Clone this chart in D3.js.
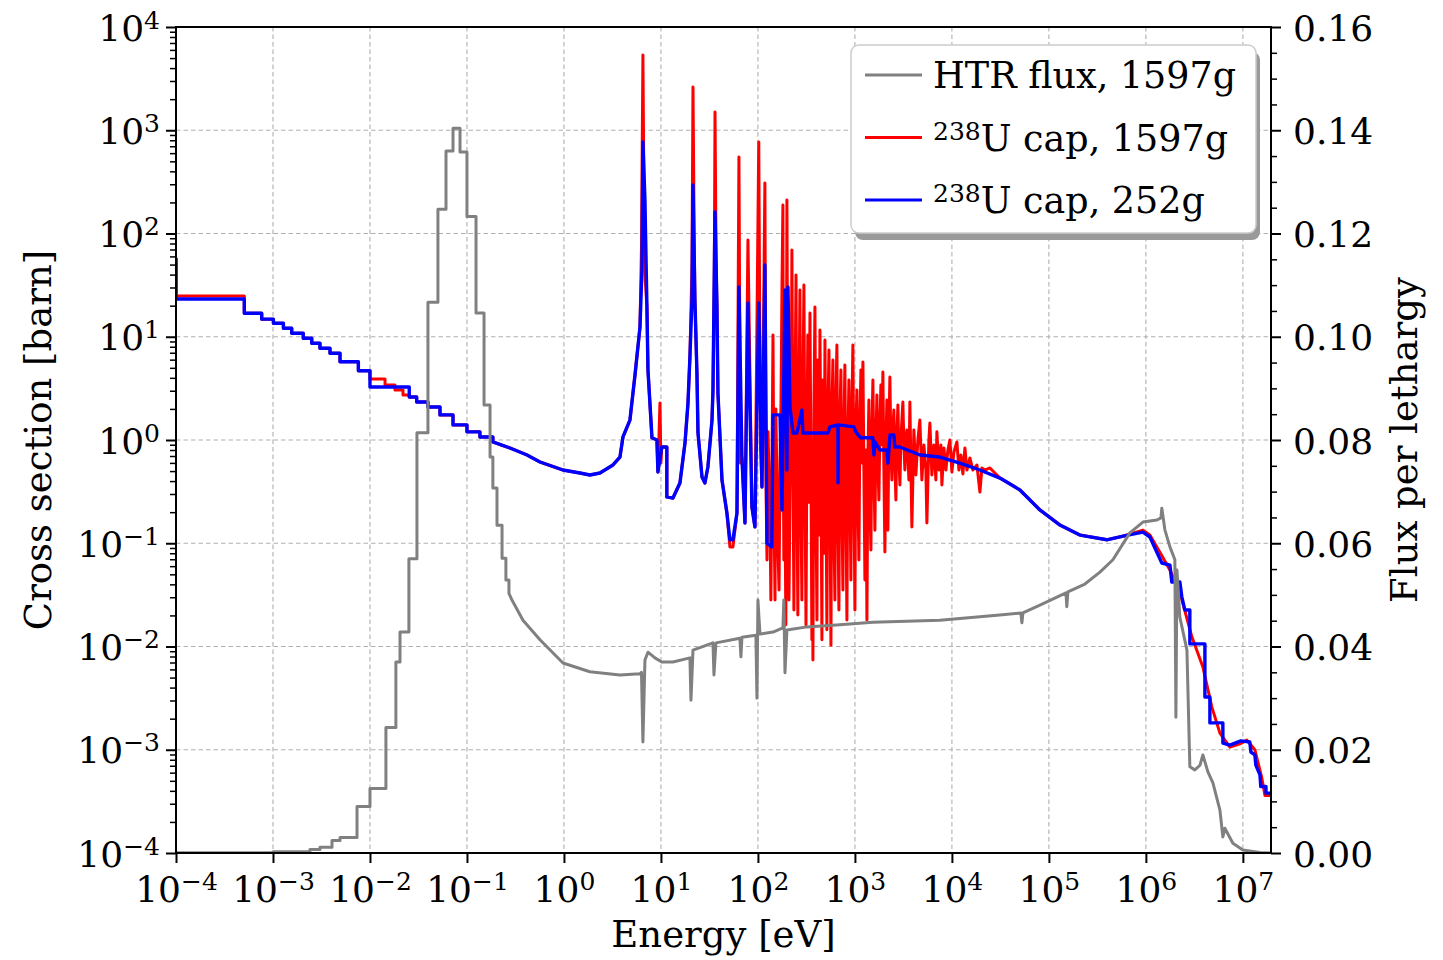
<!DOCTYPE html>
<html>
<head>
<meta charset="utf-8">
<script src="https://cdn.jsdelivr.net/npm/d3@7"></script>
<style>
    body { margin: 0; background: #fff; }
    text { font-family: "DejaVu Serif", serif; fill: #000; }
</style>
</head>
<body>
<div id="chart-area"></div>
<script>
// axis ticks
var xTickValues  = [1e-4, 1e-3, 1e-2, 1e-1, 1e0, 1e1, 1e2, 1e3, 1e4, 1e5, 1e6, 1e7];
var xsTickValues = [1e-4, 1e-3, 1e-2, 1e-1, 1e0, 1e1, 1e2, 1e3, 1e4];
var fluxTickValues = [0, 0.02, 0.04, 0.06, 0.08, 0.10, 0.12, 0.14, 0.16];

// legend
var legendSup    = ["", "238", "238"];
var legendText   = ["HTR flux, 1597g", "U cap, 1597g", "U cap, 252g"];
var legendColors = ["#808080", "#ff0000", "#0000ff"];

// HTR flux per lethargy, thermal part (group edges [eV] and level)
var fluxEdges  = [1e-4, 1.0e-3, 2.40e-3, 3.05e-3, 4.06e-3, 4.91e-3, 7.35e-3, 1.00e-2, 1.46e-2, 1.85e-2,
                  2.04e-2, 2.52e-2, 3.05e-2, 3.96e-2, 5.02e-2, 6.08e-2, 7.18e-2, 8.48e-2, 0.100, 0.124,
                  0.150, 0.173, 0.185, 0.204, 0.230, 0.252, 0.271];
var fluxLevels = [0.00005, 0.00025, 0.0007, 0.0011, 0.0024, 0.0030, 0.0090, 0.0125, 0.0243, 0.0370,
                  0.0428, 0.0570, 0.0814, 0.1067, 0.1247, 0.1360, 0.1404, 0.1358, 0.1233, 0.1046,
                  0.0868, 0.0767, 0.0707, 0.0635, 0.0571, 0.0529, 0.0503];
// HTR flux, fine part [eV, flux]
var fluxFine = [
    [0.291, 0.0490], [0.378, 0.0451], [0.566, 0.0413], [0.977, 0.0368], [1.85, 0.0351], [3.78, 0.0345],
    [6.08, 0.0347], [6.30, 0.0350], [6.52, 0.0215], [6.84, 0.0374], [7.35, 0.0389], [8.67, 0.0378],
    [10.2, 0.0370], [13.3, 0.0370], [19.9, 0.0378], [20.4, 0.0296], [21.4, 0.0393], [34.4, 0.0407],
    [35.2, 0.0345], [36.9, 0.0407], [65.2, 0.0416], [66.8, 0.0380], [68.4, 0.0418], [95.3, 0.0422],
    [97.7, 0.0300], [100, 0.0490], [105, 0.0424], [143, 0.0428], [181, 0.0436], [185, 0.0490],
    [190, 0.0349], [199, 0.0432], [320, 0.0438], [700, 0.0442], [1530, 0.0447], [7520, 0.0451],
    [31200, 0.0461], [51400, 0.0465], [52700, 0.0446], [54000, 0.0465], [80800, 0.0480],
    [150000, 0.0504], [153000, 0.0477], [157000, 0.0506], [235000, 0.0521], [336000, 0.0544],
    [457000, 0.0568], [684000, 0.0620], [931000, 0.0641], [1.30e6, 0.0645], [1.43e6, 0.0649],
    [1.46e6, 0.0668], [1.57e6, 0.0626], [1.77e6, 0.0593], [1.99e6, 0.0568], [2.04e6, 0.0263],
    [2.09e6, 0.0548], [2.24e6, 0.0457], [2.65e6, 0.0393], [2.84e6, 0.0167], [3.20e6, 0.0161],
    [3.61e6, 0.0170], [3.87e6, 0.0190], [4.36e6, 0.0157], [4.91e6, 0.0136], [5.80e6, 0.0083],
    [6.22e6, 0.0031], [6.52e6, 0.0048], [7.89e6, 0.0019], [1.0e7, 0.0006], [1.5e7, 0.0001], [1.95e7, 0.0]
];

// first bin value of both capture curves at 1e-4 eV
var capFirstBin = 57.9;

// 238U capture, 252 groups: thermal steps then line [eV, barn]
var capEdges252  = [1e-4, 5.06e-4, 7.65e-4, 1.01e-3, 1.28e-3, 1.56e-3, 2.05e-3, 2.51e-3, 3.05e-3, 3.87e-3,
                    4.91e-3, 7.59e-3, 0.0100, 0.0254, 0.0303, 0.0396, 0.0527, 0.0718, 0.100, 0.136, 0.185];
var capLevels252 = [23.2, 16.9, 14.8, 13.5, 12.1, 10.8, 9.66, 8.65, 7.73, 6.92,
                    5.73, 4.69, 3.26, 2.61, 2.33, 2.09, 1.75, 1.40, 1.20, 1.07, 0.957];
var cap252 = [
    [0.277, 0.837], [0.416, 0.716], [0.566, 0.612], [0.977, 0.512], [1.46, 0.479], [1.85, 0.458],
    [2.35, 0.479], [3.20, 0.573], [3.78, 0.684], [4.06, 1.07], [4.79, 1.56], [5.40, 4.26],
    [6.08, 12.4], [6.37, 44.3], [6.52, 769], [6.84, 211], [7.17, 19.4], [7.35, 4.76], [8.08, 1.05],
    [9.09, 1.00], [9.31, 0.490], [10.2, 0.855], [11.5, 0.855], [11.5, 0.281], [13.3, 0.274],
    [15.7, 0.384], [17.7, 0.935], [19.0, 2.28], [19.9, 6.37], [20.9, 22.7], [21.4, 295], [22.4, 22.7],
    [23.5, 4.46], [24.1, 1.17], [26.5, 0.438], [28.4, 0.384], [30.5, 0.548], [33.6, 1.56], [34.4, 3.05],
    [36.1, 162], [37.8, 19.4], [38.7, 2.85], [42.6, 0.410], [47.9, 0.196], [51.4, 0.108], [55.2, 0.108],
    [60.8, 0.196], [63.7, 30.3], [68.4, 0.684], [73.5, 0.157], [78.9, 21.2], [86.7, 0.224], [93.1, 0.144],
    [102, 21.2], [110, 0.351], [118, 49.5], [124, 0.100], [139, 0.092], [143, 1.75], [169, 1.75],
    [177, 0.210], [190, 28.4], [199, 0.512], [204, 30.3], [214, 2.09], [230, 1.17], [252, 1.17],
    [284, 1.95], [291, 1.17], [527, 1.17], [553, 1.34], [668, 1.40], [669, 0.384], [670, 1.40],
    [977, 1.34], [1020, 1.20], [1150, 1.05], [1530, 1.05], [1570, 0.716], [1610, 0.957], [1810, 0.800],
    [2140, 0.800], [2190, 0.598], [2300, 1.12], [2520, 1.12], [2580, 0.855], [2910, 0.855],
    [4680, 0.716], [7520, 0.684], [12100, 0.598], [19400, 0.512], [31300, 0.428], [50300, 0.328],
    [80800, 0.210], [130000, 0.150], [209000, 0.120], [396000, 0.108], [580000, 0.117], [931000, 0.128],
    [1.10e6, 0.115], [1.46e6, 0.0644], [1.77e6, 0.0615], [1.85e6, 0.0421], [2.24e6, 0.0421],
    [2.35e6, 0.0301], [2.52e6, 0.0226], [2.84e6, 0.0226], [2.84e6, 0.0106], [4.06e6, 0.0106],
    [4.06e6, 0.00324], [4.57e6, 0.00324], [4.57e6, 0.00182], [6.22e6, 0.00182], [6.22e6, 0.00116],
    [7.35e6, 0.00111], [9.53e6, 0.00122], [11.8e6, 0.00119], [12.1e6, 0.00095], [13.3e6, 0.00089],
    [13.6e6, 0.00071], [15.0e6, 0.00057], [15.3e6, 0.00044], [17.3e6, 0.00044], [17.3e6, 0.00038],
    [1.95e7, 0.00038]
];

// 238U capture, 1597 groups
var capEdges1597  = [1e-4, 5.06e-4, 7.65e-4, 1.01e-3, 1.28e-3, 1.56e-3, 2.05e-3, 2.51e-3, 3.05e-3, 3.87e-3,
                     4.91e-3, 7.59e-3, 0.0100, 0.0143, 0.0181, 0.0219, 0.0254, 0.0303, 0.0396, 0.0527,
                     0.0718, 0.100, 0.136, 0.185];
var capLevels1597 = [24.8, 16.9, 14.8, 13.5, 12.1, 10.8, 9.66, 8.65, 7.73, 6.92,
                     5.73, 4.69, 3.90, 3.41, 3.05, 2.73, 2.61, 2.33, 2.09, 1.75,
                     1.40, 1.20, 1.07, 0.957];
var cap1597 = [
    [0.277, 0.837], [0.416, 0.716], [0.566, 0.612], [0.977, 0.512], [1.46, 0.479], [1.85, 0.458],
    [2.35, 0.479], [3.20, 0.573], [3.78, 0.684], [4.06, 1.07], [4.79, 1.56], [5.40, 4.26],
    [6.08, 12.4], [6.30, 74], [6.52, 5350], [6.70, 150], [6.84, 40], [7.17, 19.4], [7.35, 4.76],
    [8.08, 1.05], [9.09, 1.00], [9.31, 0.490], [9.77, 2.28], [10.0, 0.60], [10.2, 0.855], [11.5, 0.855],
    [11.5, 0.281], [13.3, 0.274], [15.7, 0.384], [17.7, 0.935], [19.0, 2.28], [19.9, 6.37], [20.9, 50],
    [21.4, 2620], [22.0, 100], [22.4, 22.7], [23.5, 4.46], [24.1, 1.17], [26.5, 0.438], [28.4, 0.384],
    [30.5, 0.548], [33.6, 1.56], [34.4, 3.05], [35.5, 40], [36.1, 1500], [37.0, 60], [37.8, 19.4],
    [38.7, 2.85], [42.6, 0.410], [47.9, 0.196], [51.4, 0.092], [55.2, 0.092], [60.8, 0.196], [63.7, 551],
    [66.0, 0.60], [68.4, 0.684], [73.5, 0.157], [78.9, 86.5], [86.7, 0.224],
    [93.1, 0.144], [102, 769], [106, 0.9], [110, 0.351], [118, 308], [121, 0.4], [124, 0.0689],
    [127, 1.2], [130, 0.512], [133, 0.2], [136, 0.0282], [140, 0.8], [143, 10.4], [146, 0.3],
    [150, 0.0282], [153, 2.0], [157, 0.428], [161, 0.09], [165, 0.0353], [169, 0.6], [173, 2.44],
    [177, 30], [181, 189], [183, 0.5], [185, 0.0689], [190, 0.3], [194, 0.0162], [197, 5], [199, 211],
    [204, 0.6], [209, 0.0282], [214, 0.3], [219, 1.95], [222, 8], [224, 69.2], [230, 0.5], [235, 0.0226],
    [241, 2.5], [247, 39.6], [252, 0.4], [258, 0.0202], [264, 1.5], [271, 28.4], [277, 0.3],
    [284, 0.0282], [291, 3.0], [298, 31.7], [305, 0.5], [313, 0.0162], [320, 0.9], [327, 10.4],
    [335, 0.25], [344, 17.0], [352, 0.6], [360, 0.0116], [365, 0.4], [369, 0.0074], [378, 2.0],
    [387, 19.4], [396, 0.3], [406, 0.0181], [411, 1.0], [416, 5.96], [426, 0.12], [436, 11.6],
    [446, 0.6], [457, 0.0116], [462, 1.5], [468, 3.81], [480, 0.08], [491, 9.31], [502, 0.5],
    [514, 0.0145], [527, 1.8], [540, 7.45], [553, 0.3], [566, 0.0103], [580, 2.0], [593, 5.96],
    [607, 0.15], [622, 0.0282], [637, 2.5], [652, 8.32], [668, 0.2], [684, 0.0226], [700, 1.5],
    [717, 4.76], [735, 0.25], [752, 0.0353], [770, 1.2], [788, 5.32], [807, 0.3], [827, 0.0181],
    [847, 0.9], [867, 3.81], [888, 0.4], [909, 0.0441], [931, 2.0], [953, 8.32], [976, 0.35],
    [1000, 0.0226], [1024, 1.4], [1049, 3.05], [1074, 0.3], [1099, 0.0689], [1126, 1.5], [1153, 4.76],
    [1180, 0.6], [1209, 5.69], [1238, 0.5], [1268, 0.0441], [1299, 0.8], [1330, 0.0181], [1362, 0.7],
    [1394, 2.44], [1428, 0.25], [1462, 0.0861], [1497, 1.2], [1533, 3.81], [1570, 0.5], [1607, 0.134],
    [1646, 1.0], [1686, 2.73], [1726, 0.6], [1767, 0.262], [1810, 1.4], [1853, 3.41], [1897, 0.9],
    [1943, 4.56], [1990, 0.5], [2038, 0.0823], [2087, 0.9], [2137, 2.44], [2160, 0.6], [2188, 0.134],
    [2240, 1.2], [2294, 4.07], [2350, 0.8], [2406, 0.410], [2464, 1.3], [2522, 1.95], [2583, 0.6],
    [2645, 0.262], [2709, 1.1], [2774, 2.18], [2841, 0.7], [2909, 0.367], [2979, 1.0], [3050, 1.56],
    [3123, 2.33], [3198, 0.9], [3275, 0.512], [3354, 1.0], [3434, 1.25], [3601, 0.410], [3687, 2.33],
    [3866, 0.144], [4054, 1.25], [4251, 0.458], [4458, 1.00], [4675, 1.56], [4902, 0.410], [5141, 0.895],
    [5391, 0.512], [5521, 0.157], [5789, 1.00], [5929, 1.46], [6217, 0.458], [6520, 0.895], [6837, 0.410],
    [7002, 1.20], [7342, 0.512], [7700, 0.895], [7885, 0.367], [8269, 0.837], [8671, 0.512], [9093, 0.800],
    [9535, 1.00], [10000, 0.490], [10490, 0.766], [11260, 0.957], [11810, 0.512], [12380, 0.716],
    [12980, 0.469], [13620, 0.837], [14280, 0.512], [15330, 0.670], [16450, 0.512], [18110, 0.573],
    [19440, 0.313], [20390, 0.536], [21880, 0.512], [24650, 0.536],
    [31300, 0.428], [50300, 0.328], [80800, 0.210], [130000, 0.150], [209000, 0.120], [396000, 0.108],
    [580000, 0.117], [931000, 0.134], [1.10e6, 0.120], [1.39e6, 0.0823], [1.77e6, 0.0551],
    [2.24e6, 0.0337], [2.98e6, 0.0124], [3.87e6, 0.00633], [4.79e6, 0.00259], [5.80e6, 0.00145],
    [7.35e6, 0.00106], [9.31e6, 0.00114], [11.0e6, 0.00124], [13.3e6, 0.00100], [15.7e6, 0.00053],
    [16.9e6, 0.00036], [1.95e7, 0.00036]
];


function steps(edges, levels)
{
    var pts = [];
    edges.forEach(function(e, i) {
        if (i > 0) pts.push([e, levels[i - 1]]);
        pts.push([e, levels[i]]);
    });
    return pts;
}

var svgWidth  = 1443;
var svgHeight = 960;
var margin = { top: 27, left: 176, bottom: 107, right: 172 };
var width  = svgWidth - margin.left - margin.right;
var height = svgHeight - margin.top - margin.bottom;

var tickFont = 36;
var supFont  = 25;

var svg = d3.select("#chart-area")
            .append("svg")
            .attr("width", svgWidth)
            .attr("height", svgHeight)
            .style("display", "block");

svg.append("rect").attr("width", svgWidth).attr("height", svgHeight).attr("fill", "#fff");

var graphSpace = svg.append("g")
                    .attr("transform", "translate(" + margin.left + ", " + margin.top + ")");

var x = d3.scaleLog().domain([1e-4, 1.95e7]).range([0, width]);
var yXs = d3.scaleLog().domain([1e-4, 1e4]).range([height, 0]);
var yFlux = d3.scaleLinear().domain([0, 0.16]).range([height, 0]);

// grid
var grid = graphSpace.append("g")
                     .attr("stroke", "#b0b0b0")
                     .attr("stroke-width", 1.1)
                     .attr("stroke-dasharray", "4.5,3");
grid.selectAll(".vg").data(xTickValues).enter().append("line")
    .attr("x1", (d) => x(d)).attr("x2", (d) => x(d))
    .attr("y1", 0).attr("y2", height);
grid.selectAll(".hg").data(xsTickValues).enter().append("line")
    .attr("x1", 0).attr("x2", width)
    .attr("y1", (d) => yXs(d)).attr("y2", (d) => yXs(d));

// curves
graphSpace.append("clipPath").attr("id", "plot-clip")
          .append("rect").attr("width", width).attr("height", height);

var xsLine = d3.line()
               .x((d) => x(d[0]))
               .y((d) => yXs(d[1]));
var fluxLine = d3.line()
                 .x((d) => x(d[0]))
                 .y((d) => yFlux(d[1]));

var curves = graphSpace.append("g")
                       .attr("clip-path", "url(#plot-clip)")
                       .attr("fill", "none")
                       .attr("stroke-linejoin", "round");

var red = [[1e-4, capFirstBin]].concat(steps(capEdges1597, capLevels1597), cap1597);
var blue = [[1e-4, capFirstBin]].concat(steps(capEdges252, capLevels252), cap252);
var gray = steps(fluxEdges, fluxLevels).concat(fluxFine);

curves.append("path").attr("d", xsLine(red)).attr("stroke", legendColors[1]).attr("stroke-width", 3);
curves.append("path").attr("d", xsLine(blue)).attr("stroke", legendColors[2]).attr("stroke-width", 3.4);
curves.append("path").attr("d", fluxLine(gray)).attr("stroke", legendColors[0]).attr("stroke-width", 3);

// axes
function powLabel(sel, d)
{
    var e = Math.round(Math.log10(d));
    sel.text(null);
    sel.append("tspan").text("10");
    sel.append("tspan").attr("dy", -12).attr("font-size", supFont)
       .text(e < 0 ? "\u2212" + (-e) : String(e));
}

var minorXs = [];
xsTickValues.slice(0, -1).forEach(function(d) {
    for (var k = 2; k < 10; k++) minorXs.push(d * k);
});
var minorFlux = d3.range(0, 33).map((i) => i * 0.005).filter((d, i) => i % 4 !== 0);

graphSpace.append("g")
          .attr("transform", "translate(0," + height + ")")
          .call(d3.axisBottom(x).tickValues(xTickValues).tickSize(10).tickSizeOuter(0))
          .call((g) => g.select(".domain").remove())
          .call((g) => g.selectAll(".tick line").attr("stroke-width", 2))
          .selectAll(".tick text")
              .attr("font-family", "DejaVu Serif")
              .attr("font-size", tickFont)
              .attr("dy", null)
              .attr("y", 49)
              .each(function(d) { powLabel(d3.select(this), d); });

graphSpace.append("g")
          .call(d3.axisLeft(yXs).tickValues(minorXs).tickSize(6).tickFormat(""))
          .call((g) => g.select(".domain").remove())
          .selectAll(".tick line").attr("stroke-width", 1.5);

graphSpace.append("g")
          .call(d3.axisLeft(yXs).tickValues(xsTickValues).tickSize(10).tickSizeOuter(0))
          .call((g) => g.select(".domain").remove())
          .call((g) => g.selectAll(".tick line").attr("stroke-width", 2))
          .selectAll(".tick text")
              .attr("font-family", "DejaVu Serif")
              .attr("font-size", tickFont)
              .attr("dy", null)
              .attr("x", -16)
              .attr("y", 13)
              .each(function(d) { powLabel(d3.select(this), d); });

graphSpace.append("g")
          .attr("transform", "translate(" + width + ",0)")
          .call(d3.axisRight(yFlux).tickValues(minorFlux).tickSize(6).tickFormat(""))
          .call((g) => g.select(".domain").remove())
          .selectAll(".tick line").attr("stroke-width", 1.5);

graphSpace.append("g")
          .attr("transform", "translate(" + width + ",0)")
          .call(d3.axisRight(yFlux).tickValues(fluxTickValues).tickSize(10).tickSizeOuter(0)
                  .tickFormat(d3.format(".2f")))
          .call((g) => g.select(".domain").remove())
          .call((g) => g.selectAll(".tick line").attr("stroke-width", 2))
          .selectAll(".tick text")
              .attr("font-family", "DejaVu Serif")
              .attr("font-size", tickFont)
              .attr("x", 22)
              .attr("dy", null)
              .attr("y", 13);

// frame
graphSpace.append("rect")
          .attr("width", width).attr("height", height)
          .attr("fill", "none").attr("stroke", "#000").attr("stroke-width", 2);

// axis labels
svg.append("text")
   .attr("x", margin.left + width / 2).attr("y", 947)
   .attr("text-anchor", "middle").attr("font-size", 37)
   .text("Energy [eV]");

svg.append("g")
   .attr("transform", "translate(51, " + (margin.top + height / 2) + ")")
   .append("text")
   .attr("text-anchor", "middle").attr("font-size", 37)
   .attr("transform", "rotate(-90)")
   .text("Cross section [barn]");

svg.append("g")
   .attr("transform", "translate(1417, " + (margin.top + height / 2) + ")")
   .append("text")
   .attr("text-anchor", "middle").attr("font-size", 37)
   .attr("transform", "rotate(-90)")
   .text("Flux per lethargy");

// legend
var legend = svg.append("g").attr("transform", "translate(851, 45)");
legend.append("rect")
      .attr("x", 4).attr("y", 7).attr("width", 405).attr("height", 188).attr("rx", 8)
      .attr("fill", "#9a9a9a");
legend.append("rect")
      .attr("width", 405).attr("height", 188).attr("rx", 8)
      .attr("fill", "#fff").attr("stroke", "#cccccc").attr("stroke-width", 1.5);

var items = legend.selectAll(".item")
                  .data(legendText)
                  .enter()
                  .append("g")
                  .attr("transform", (d, i) => "translate(0," + (30 + i * 62.5) + ")");
items.append("line")
     .attr("x1", 14).attr("x2", 71)
     .attr("stroke", (d, i) => legendColors[i])
     .attr("stroke-width", 3);
items.append("text")
     .attr("x", 82).attr("y", 13)
     .attr("font-size", 36.5)
     .each(function(d, i) {
         var t = d3.select(this);
         if (legendSup[i]) {
             t.append("tspan").attr("font-size", supFont).attr("dy", -11).text(legendSup[i]);
             t.append("tspan").attr("dy", 11).text(d);
         } else {
             t.text(d);
         }
     });
</script>
</body>
</html>
